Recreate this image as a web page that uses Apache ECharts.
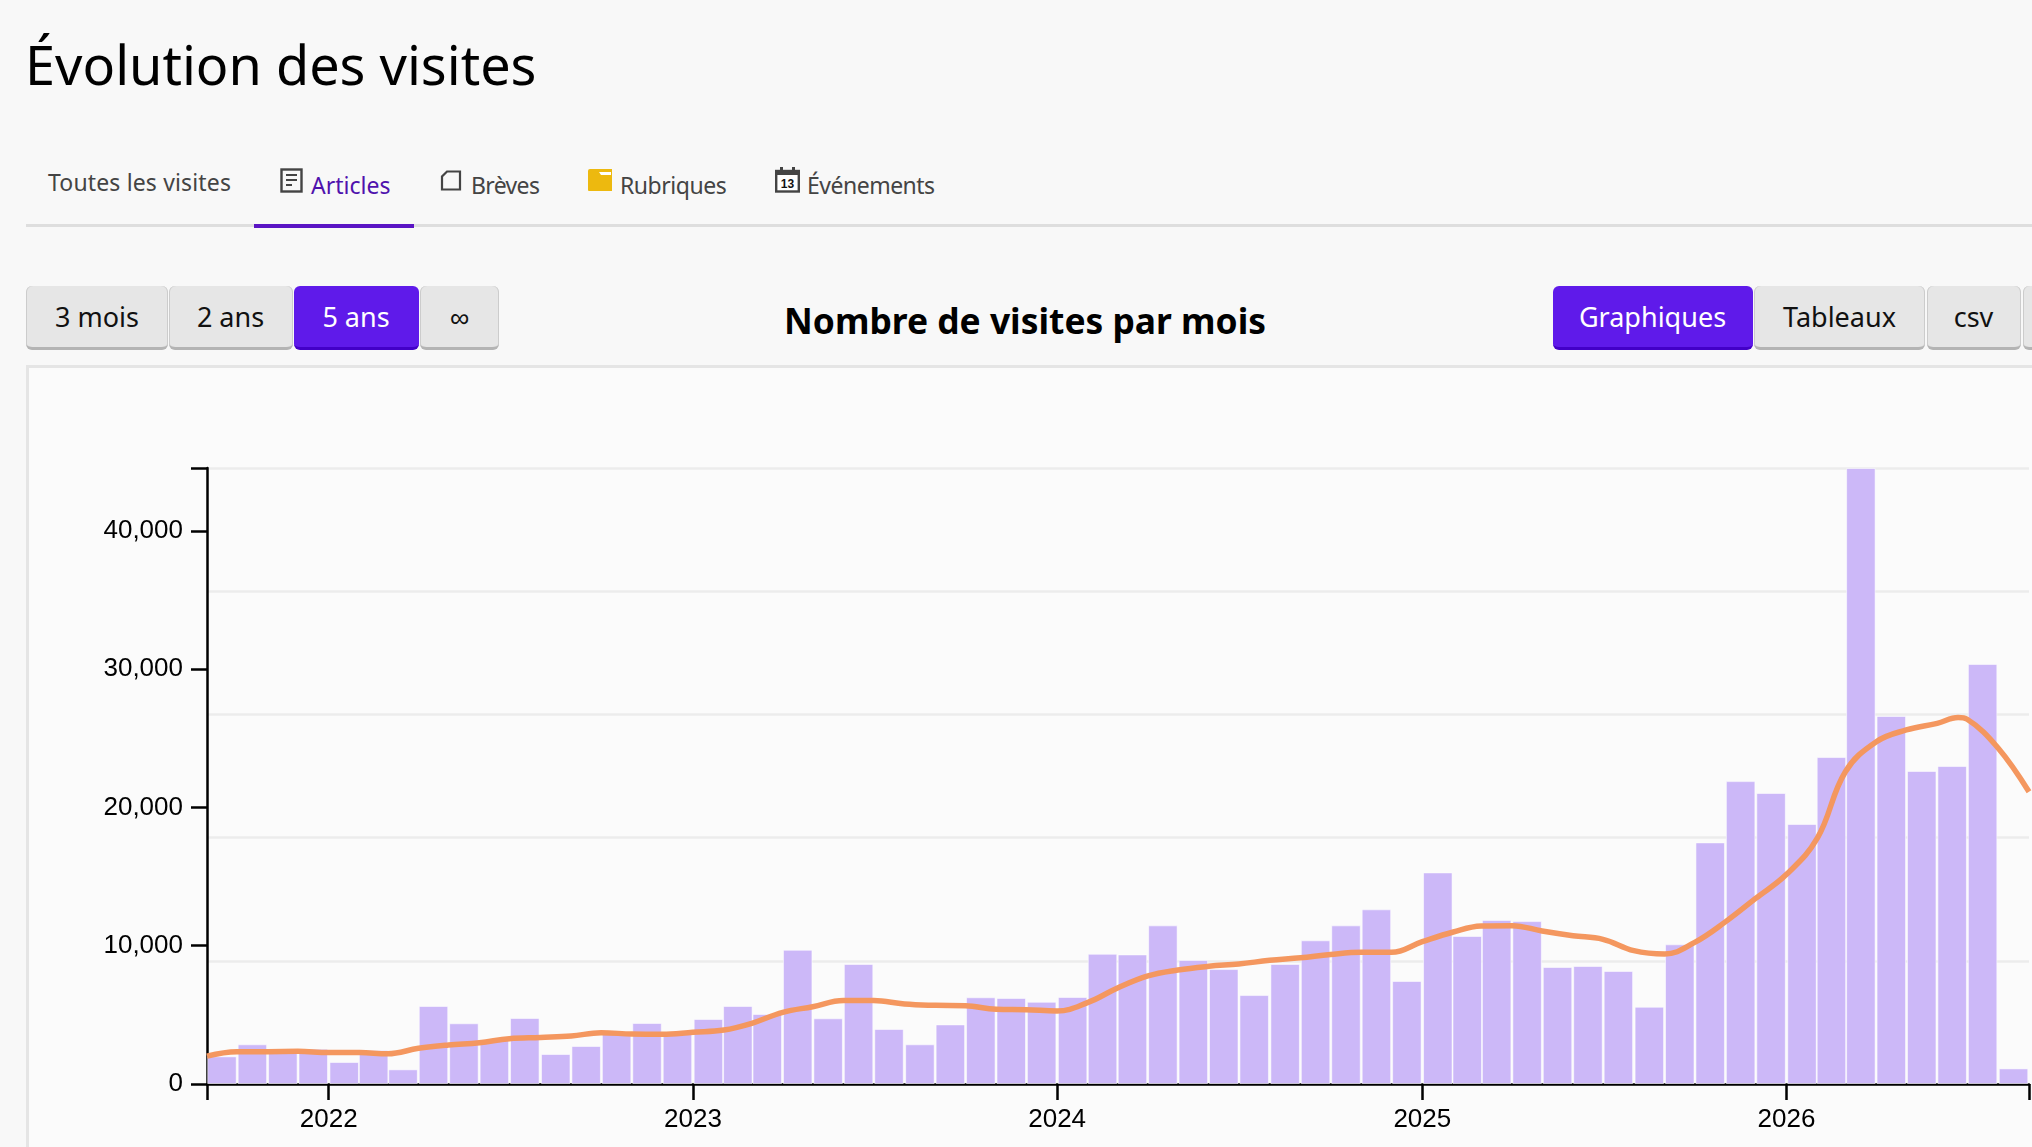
<!DOCTYPE html>
<html lang="fr"><head><meta charset="utf-8"><title>Évolution des visites</title>
<script src="https://cdn.jsdelivr.net/npm/echarts@6/dist/echarts.min.js"></script>
<style>
html,body{margin:0;padding:0;width:2032px;height:1147px;overflow:hidden;background:#f8f8f8;font-family:"Noto Sans",sans-serif}
.t{position:absolute;white-space:nowrap;line-height:1}
#h1{left:25px;top:37px;font-size:54px;color:#000}
.tab{font-size:23px;color:#444}
.rule{position:absolute;left:26px;right:0;top:224px;height:3px;background:#dedede}
.active{position:absolute;left:254px;width:160px;top:224px;height:4px;background:#5a14c4}
.btn{position:absolute;top:286px;height:61px;background:#e6e6e6;border-radius:6px;border-bottom:3px solid #b4b4b4;box-shadow:inset 1px 0 0 #ccc,inset -1px 0 0 #ccc;color:#111;font-size:27px;display:flex;align-items:center;justify-content:center;white-space:nowrap;box-sizing:content-box;line-height:64px}
.btn.on{background:#5f1aea;border-bottom-color:#4300c8;color:#fff;box-shadow:none}
#sub{left:784px;top:303px;font-size:35.4px;font-weight:700;color:#000}
#panel{position:absolute;left:26px;top:365px;right:0;bottom:0;background:#fbfbfb;border-top:3px solid #e5e5e5;border-left:3px solid #e5e5e5}
#chart{position:absolute;left:0;top:0;width:2032px;height:1147px}
svg{position:absolute}
</style></head><body>
<div class="t" id="h1">Évolution des visites</div>
<div class="t tab" style="left:48px;top:171px;letter-spacing:.15px">Toutes les visites</div>
<svg style="left:280px;top:168px" width="23" height="26" viewBox="0 0 23 26"><rect x="1.5" y="1.5" width="20" height="22" fill="none" stroke="#444" stroke-width="2.4"/><path d="M6 7h11M6 12h11M6 17h6" stroke="#444" stroke-width="2.2"/></svg>
<div class="t tab" style="left:311px;top:174px;color:#4f12ad">Articles</div>
<svg style="left:440px;top:170px" width="22" height="21" viewBox="0 0 22 21"><path d="M7 1.5H20V19.5H2V6.5Z" fill="none" stroke="#444" stroke-width="2.2"/></svg>
<div class="t tab" style="left:471px;top:174px;letter-spacing:-.65px">Brèves</div>
<svg style="left:587px;top:169px" width="26" height="23" viewBox="0 0 26 23"><path d="M1 2Q1 0 3 0H25V22H2Q1 22 1 21Z" fill="#edb90f"/><path d="M12 3H24V6H14Z" fill="#fff"/></svg>
<div class="t tab" style="left:620px;top:174px;letter-spacing:-.45px">Rubriques</div>
<svg style="left:775px;top:167px" width="25" height="26" viewBox="0 0 25 26"><rect x="1.2" y="4" width="22.6" height="20.5" fill="#fff" stroke="#444" stroke-width="2.4"/><rect x="1" y="3" width="23" height="5" fill="#444"/><rect x="5" y="0" width="3" height="5" fill="#444"/><rect x="17" y="0" width="3" height="5" fill="#444"/><text x="12.5" y="21" text-anchor="middle" font-family="Liberation Sans" font-weight="700" font-size="12" fill="#111">13</text></svg>
<div class="t tab" style="left:807px;top:174px;letter-spacing:-.5px">Événements</div>
<div class="rule"></div><div class="active"></div>
<div class="btn" style="left:26px;width:142px">3 mois</div>
<div class="btn" style="left:168.5px;width:124px">2 ans</div>
<div class="btn on" style="left:293.5px;width:125px">5 ans</div>
<div class="btn" style="left:420px;width:79px">∞</div>
<div class="t" id="sub">Nombre de visites par mois</div>
<div class="btn on" style="left:1552.5px;width:200px">Graphiques</div>
<div class="btn" style="left:1754px;width:171px">Tableaux</div>
<div class="btn" style="left:1926.5px;width:94px">csv</div>
<div class="btn" style="left:2022.5px;width:40px"></div>
<div id="panel"></div>
<div id="chart"></div>
<script>
const startYear = 2021, startMonth = 8; // first month: September 2021
const yearLabels = [2022, 2023, 2024, 2025, 2026];
const barValues = [
 2000,2870,2500,2550,1590,2460,1060,5640,4390,3180,4770,2170,2750,3800,4410,3660,
 4700,5640,5060,9710,4750,8680,3980,2870,4310,6270,6220,5950,6290,9420,9370,11470,
 8970,8310,6430,8680,10390,11470,12630,7450,15300,10700,11860,11780,8460,8530,8170,5590,
 10100,17470,21900,21040,18800,23640,44540,26610,22630,22990,30370,1130];
const trendValues = [
 2020,2340,2340,2360,2270,2270,2190,2580,2820,2990,3280,3370,3470,3710,3610,3590,3740,
 3900,4390,5180,5590,6030,6030,5780,5690,5660,5400,5370,5280,5900,6920,7810,8240,8510,8680,8940,
 9130,9370,9520,9520,10290,10990,11420,11450,11060,10720,10460,9640,9400,10240,11740,13420,15160,
 17790,22580,24750,25600,26080,26370,24300,21130];
const trendPeakMonth = 57.7, trendPeakValue = 26500;
const yMax = 44540, yTicks = [0, 10000, 20000, 30000, 40000], gridStep = 8908;
const barColor = '#ccb8f8', lineColor = '#f4975f', axisColor = '#000', gridColor = '#ececec';
const fontName = '"Liberation Sans", Arial, sans-serif';

const monthStart = i => new Date(startYear, startMonth + i, 1).getTime();
const yearStart = y => new Date(y, 0, 1).getTime();
const barData = barValues.map((v, i) => [(monthStart(i) + monthStart(i + 1)) / 2, v]);
const lineData = trendValues.map((v, i) => [monthStart(i), v]);
lineData.splice(Math.ceil(trendPeakMonth), 0, [
  monthStart(57) + (trendPeakMonth - 57) * (monthStart(58) - monthStart(57)), trendPeakValue]);
const xMin = monthStart(0), xMax = monthStart(60);
const yearTicks = yearLabels.map(yearStart);

const chart = echarts.init(document.getElementById('chart'), null, {renderer: 'canvas'});
chart.setOption({
  animation: false,
  backgroundColor: 'transparent',
  grid: {left: 207, top: 468, right: 3, bottom: 63, containLabel: false},
  xAxis: {
    type: 'value', min: xMin, max: xMax, scale: true,
    axisLine: {lineStyle: {color: axisColor, width: 2.5}, onZero: false},
    axisTick: {show: true, length: 16, customValues: [xMin].concat(yearTicks, [xMax]), lineStyle: {color: axisColor, width: 2.5}},
    splitLine: {show: false},
    axisLabel: {
      color: '#000', fontFamily: fontName, fontSize: 26, margin: 23, hideOverlap: false,
      customValues: yearTicks,
      formatter: v => String(new Date(v).getFullYear())
    }
  },
  yAxis: [{
    type: 'value', min: 0, max: yMax,
    axisLine: {show: true, lineStyle: {color: axisColor, width: 2.5}},
    axisTick: {show: true, length: 16, customValues: yTicks.concat([yMax]), lineStyle: {color: axisColor, width: 2.5}},
    splitLine: {show: false},
    axisLabel: {color: '#000', fontFamily: fontName, fontSize: 26, margin: 24, padding: [5, 0, 0, 0],
      customValues: yTicks,
      formatter: v => v.toLocaleString('en-US')}
  }, {
    type: 'value', min: 0, max: yMax, interval: gridStep, position: 'right',
    axisLine: {show: false}, axisTick: {show: false}, axisLabel: {show: false},
    splitLine: {show: true, lineStyle: {color: gridColor, width: 2.6}}
  }],
  series: [{
    name: 'Visites', type: 'bar', data: barData, barWidth: 29.5,
    itemStyle: {color: barColor, borderColor: 'rgba(255,255,255,0.55)', borderWidth: 1}
  }, {
    name: 'Tendance', type: 'line', data: lineData, smooth: 0.4, showSymbol: false, z: 5,
    lineStyle: {color: lineColor, width: 5.5}, clip: false
  }]
});
</script>
</body></html>
